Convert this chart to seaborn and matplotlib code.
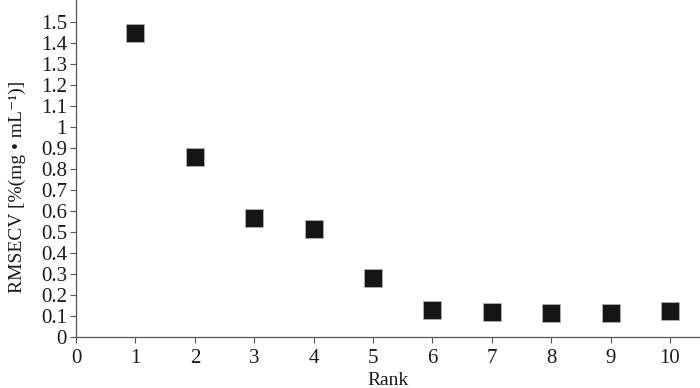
import pandas as pd
import seaborn as sns
import matplotlib.pyplot as plt
from matplotlib.ticker import FuncFormatter

# values
rank = [1, 2, 3, 4, 5, 6, 7, 8, 9, 10]
rmsecv = [1.447, 0.857, 0.565, 0.513, 0.278, 0.126, 0.117, 0.113, 0.113, 0.121]
x_ticks = list(range(0, 11))
y_ticks = [i / 10 for i in range(0, 16)]

sns.set_style("ticks")
plt.rcParams['font.family'] = ['Liberation Serif', 'DejaVu Serif']

df = pd.DataFrame({"Rank": rank, "RMSECV": rmsecv})

fig = plt.figure(figsize=(7, 3.88), dpi=100)
ax = fig.add_axes([0.1086, 0.132, 0.891, 0.868])

sns.scatterplot(data=df, x="Rank", y="RMSECV", marker="s", s=175,
                color="#151515", edgecolor="#b0b0b0", linewidth=0.6, ax=ax, zorder=3)

ax.set_xlim(0, 10.5)
ax.set_ylim(0, 1.605)
ax.set_xticks(x_ticks)
ax.set_yticks(y_ticks)
ax.yaxis.set_major_formatter(FuncFormatter(lambda v, p: f"{v:g}"))
ax.tick_params(axis="both", labelsize=15, length=4.5, width=0.8,
               color="#555555", labelcolor="#1a1a1a", pad=2)
ax.tick_params(axis="x", pad=4)

for side in ["top", "right"]:
    ax.spines[side].set_visible(False)
for side in ["left", "bottom"]:
    ax.spines[side].set_color("#555555")
    ax.spines[side].set_linewidth(0.9)

ax.set_xlabel("Rank", fontsize=14, color="#1a1a1a", labelpad=3)
ax.set_ylabel("RMSECV [%(mg • mL⁻¹)]", fontsize=14, color="#1a1a1a")
ax.yaxis.set_label_coords(-0.080, 0.446)

fig.savefig("out.png", dpi=100)
